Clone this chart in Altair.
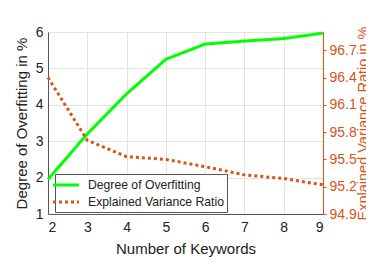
import altair as alt
import pandas as pd

keywords = [2, 3, 4, 5, 6, 7, 8, 9]
overfitting = [1.95, 3.2, 4.3, 5.25, 5.67, 5.75, 5.82, 5.97]
variance = [96.40, 95.71, 95.53, 95.50, 95.42, 95.33, 95.29, 95.22]
series_names = ["Degree of Overfitting", "Explained Variance Ratio"]

df1 = pd.DataFrame({"k": keywords, "v": overfitting, "s": series_names[0]})
df2 = pd.DataFrame({"k": keywords, "v": variance, "s": series_names[1]})

FONT = "Liberation Sans"
ORANGE = "#D95319"
GREEN = "#00FF00"

color = alt.Color("s:N", scale=alt.Scale(domain=series_names, range=[GREEN, ORANGE]),
                  legend=alt.Legend(title=None, orient="none", legendX=7, legendY=142,
                                    symbolType="M-2,0H2", symbolStrokeWidth=3, symbolSize=169,
                                    labelFontSize=12.2, labelFont=FONT, labelColor="#222",
                                    strokeColor="#555", fillColor="white", padding=3,
                                    rowPadding=2, labelLimit=300, labelOffset=14))
dash = alt.StrokeDash("s:N", scale=alt.Scale(domain=series_names, range=[[1, 0], [3, 3]]),
                      legend=None)

xenc = alt.X("k:Q", scale=alt.Scale(domain=[2, 9], nice=False),
             axis=alt.Axis(title="Number of Keywords", values=keywords, grid=True,
                           gridColor="#e3e3e3", domainColor="#555", ticks=False,
                           labelFontSize=14, titleFontSize=15, labelFont=FONT, titleFont=FONT,
                           labelColor="#222", titleColor="#222", labelPadding=6, titlePadding=7,
                           titleFontWeight="normal"))

left = alt.Chart(df1).mark_line(strokeWidth=3).encode(
    x=xenc,
    y=alt.Y("v:Q", scale=alt.Scale(domain=[1, 6], nice=False),
            axis=alt.Axis(title="Degree of Overfitting in %", values=[1, 2, 3, 4, 5, 6],
                          grid=True, gridColor="#e3e3e3", domainColor="#555", ticks=False,
                          labelFontSize=14, titleFontSize=15, labelFont=FONT, titleFont=FONT,
                          labelColor="#222", titleColor="#222", labelPadding=5, titlePadding=6,
                          titleFontWeight="normal")),
    color=color,
    strokeDash=dash,
)

right = alt.Chart(df2).mark_line(strokeWidth=3).encode(
    x=xenc,
    y=alt.Y("v:Q", scale=alt.Scale(domain=[94.9, 96.9], nice=False),
            axis=alt.Axis(title="Explained Variance Ratio in %", orient="right",
                          values=[94.9, 95.2, 95.5, 95.8, 96.1, 96.4, 96.7], format=".1f",
                          grid=False, domainColor=ORANGE, tickColor=ORANGE, tickSize=3,
                          labelFontSize=14, titleFontSize=14.5, labelFont=FONT, titleFont=FONT,
                          labelColor=ORANGE, titleColor=ORANGE, labelPadding=3,
                          titleAngle=270, titleBaseline="middle", titleAlign="center",
                          titleX=40, titleY=91,
                          titleFontWeight="normal")),
    color=color,
    strokeDash=dash,
)

chart = alt.layer(left, right).resolve_scale(y="independent").properties(
    width=275, height=182,
    autosize=alt.AutoSizeParams(type="none"),
    padding={"left": 40, "top": 24, "right": 43, "bottom": 53},
).configure_view(stroke="#555", strokeWidth=1)

chart.save("out.html", embed_options={"renderer": "svg", "actions": False})
